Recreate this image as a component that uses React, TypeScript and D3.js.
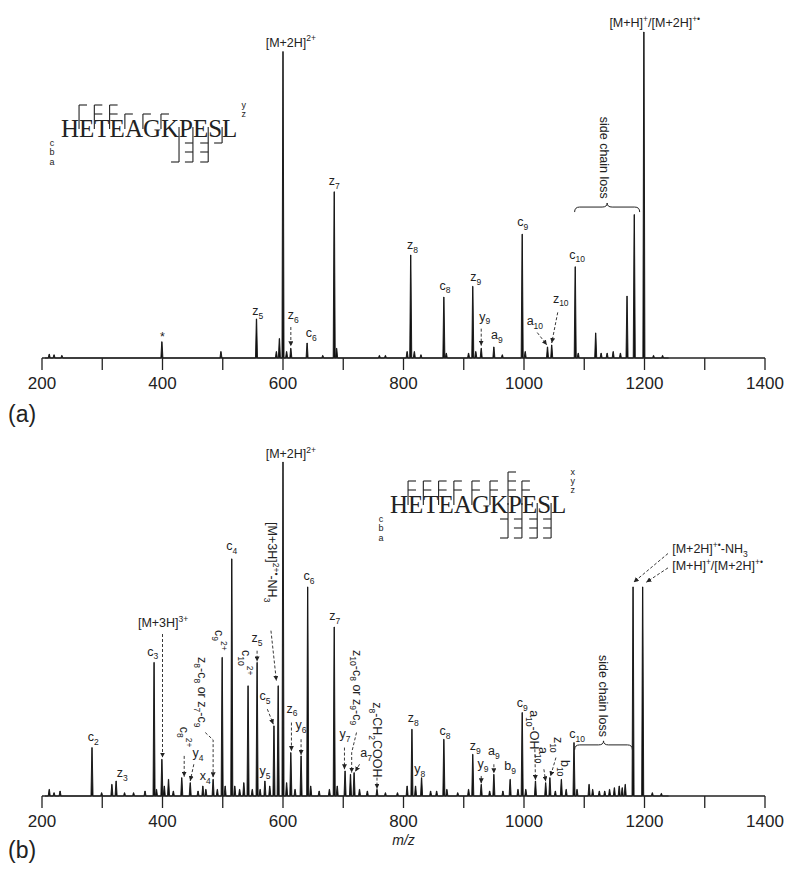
import React from "react";
import * as d3 from "d3";

const W = 800;
const H = 870;
const mzTicks = d3.range(200, 1401, 100);
const mzTickLabels = [200, 400, 600, 800, 1000, 1200, 1400];
const residues = ["H", "E", "T", "E", "A", "G", "K", "P", "E", "S", "L"];
// Times advance widths (em)
const serifWidths: Record<string, number> = { H: 0.722, E: 0.611, T: 0.611, A: 0.722, G: 0.722, K: 0.722, P: 0.556, S: 0.556, L: 0.611 };

// (a) spectrum: [m/z, relative intensity %]
const peaksA: [number, number][] = [
  [212, 1.2], [220, 1], [233, 0.8], [399, 5], [497, 2], [556, 12], [589, 2], [594, 6], [600, 94], [606, 2],
  [613, 3], [640, 4.6], [666, 0.8], [685, 51], [689, 3], [760, 0.8], [770, 0.8], [806, 2], [812, 31.6], [818, 2],
  [829, 1], [867, 18.7], [871, 1.5], [908, 1.5], [915, 22], [920, 2], [929, 3], [950, 3.4], [964, 1], [997, 38],
  [1002, 2], [1039, 3.4], [1046, 4], [1085, 28], [1090, 1.5], [1119, 7.7], [1128, 1.5], [1138, 1.5], [1148, 2],
  [1160, 1.5], [1171, 19], [1183, 44], [1199, 100], [1215, 0.8], [1230, 0.8],
];

// (b) spectrum
const peaksB: [number, number][] = [
  [212, 2], [220, 1], [230, 1.5], [283, 14.5], [299, 1], [316, 3.5], [323, 4.5], [337, 1], [352, 1], [371, 1.5],
  [386, 40], [390, 2], [399, 11], [403, 3], [410, 5], [418, 1.5], [432, 5.5], [446, 4], [459, 1.5], [467, 3],
  [472, 2], [484, 5], [491, 2], [499, 41.5], [504, 3], [515, 71], [520, 3], [528, 2], [535, 4], [542, 33],
  [549, 2], [557, 40], [562, 2], [570, 4.5], [578, 3], [585, 21], [592, 33], [600, 100], [606, 4], [613, 13],
  [620, 2], [630, 12], [641, 62.6], [646, 3], [660, 1.5], [677, 2], [685, 50.6], [690, 3], [703, 7.5], [712, 6.5],
  [718, 7], [727, 2], [740, 1.5], [756, 2], [770, 1], [790, 1], [806, 3], [814, 20], [820, 3], [830, 5.5],
  [845, 1.5], [855, 1.5], [867, 17], [872, 2], [890, 1], [908, 2], [915, 12.5], [929, 3.5], [943, 1.5], [950, 6.5],
  [965, 1.5], [977, 5], [990, 2], [997, 25], [1003, 2], [1019, 4.5], [1036, 4], [1043, 5.5], [1052, 1.5], [1062, 5],
  [1070, 2], [1083, 16], [1088, 2], [1108, 3.5], [1114, 2], [1125, 1.5], [1134, 1.5], [1142, 2], [1150, 2.5],
  [1158, 3], [1163, 2.5], [1168, 3.5], [1181, 62.6], [1197, 62.6], [1213, 1], [1228, 0.8],
];

type Lab = { t: string; mz: number; i: number; rot?: boolean; start?: boolean; arrow?: [number, number][] };

const labelsA: Lab[] = [
  { t: "[M+2H]^{2+}", mz: 613, i: 95.5 },
  { t: "[M+H]^{+}/[M+2H]^{+•}", mz: 1217, i: 101.5 },
  { t: "*", mz: 400, i: 5.2 },
  { t: "z_{5}", mz: 558, i: 13.2 },
  { t: "z_{6}", mz: 617, i: 12, arrow: [[613, 9.5], [613, 3.6]] },
  { t: "c_{6}", mz: 647, i: 6.5 },
  { t: "z_{7}", mz: 685, i: 53 },
  { t: "z_{8}", mz: 815, i: 33.5 },
  { t: "c_{8}", mz: 869, i: 21 },
  { t: "z_{9}", mz: 920, i: 23.5 },
  { t: "y_{9}", mz: 935, i: 11.5, arrow: [[929, 9], [929, 3.8]] },
  { t: "a_{9}", mz: 955, i: 5.8 },
  { t: "c_{9}", mz: 998, i: 40.5 },
  { t: "a_{10}", mz: 1018, i: 10, arrow: [[1022, 7.8], [1038, 4]] },
  { t: "z_{10}", mz: 1061, i: 17, arrow: [[1056, 14], [1046, 4.6]] },
  { t: "c_{10}", mz: 1088, i: 30.5 },
  { t: "side chain loss", mz: 1134, i: 74, rot: true },
];
const bracesA: [number, number, number][] = [[1084, 1192, 46.3]];

const labelsB: Lab[] = [
  { t: "[M+2H]^{2+}", mz: 613, i: 101.2 },
  { t: "c_{2}", mz: 285, i: 16.5 },
  { t: "z_{3}", mz: 333, i: 5.7 },
  { t: "c_{3}", mz: 384, i: 42 },
  { t: "[M+3H]^{3+}", mz: 401, i: 50.6, arrow: [[400, 48.5], [400, 11.5]] },
  { t: "c_{8}^{2+}", mz: 437, i: 20.7, rot: true, arrow: [[436, 12], [436, 5.8]] },
  { t: "y_{4}", mz: 459, i: 11.7, arrow: [[452, 9.5], [446, 4.5]] },
  { t: "x_{4}", mz: 471, i: 4.8 },
  { t: "z_{8}-c_{8} or z_{7}-c_{9}", mz: 466, i: 41.6, rot: true, arrow: [[471, 19], [484, 16.8], [484, 5.6]] },
  { t: "c_{9}^{2+}", mz: 495, i: 49.7, rot: true },
  { t: "c_{4}", mz: 515, i: 73.7 },
  { t: "c_{10}^{2+}", mz: 539, i: 43.7, rot: true },
  { t: "z_{5}", mz: 557, i: 46.1, arrow: [[557, 43.5], [557, 40.3]] },
  { t: "y_{5}", mz: 570, i: 6.3 },
  { t: "c_{5}", mz: 570, i: 28.7, arrow: [[574, 26], [584, 21.5]] },
  { t: "[M+3H]^{2+•}-NH_{3}", mz: 582, i: 82, rot: true, arrow: [[580, 49.5], [589, 34.5]] },
  { t: "z_{6}", mz: 615, i: 25, arrow: [[614, 22], [614, 13.5]] },
  { t: "y_{6}", mz: 630, i: 20, arrow: [[630, 17], [630, 12.3]] },
  { t: "c_{6}", mz: 643, i: 64.7 },
  { t: "z_{7}", mz: 686, i: 52.7 },
  { t: "y_{7}", mz: 703, i: 17.4, arrow: [[702, 14.5], [702, 8]] },
  { t: "z_{10}-c_{8} or z_{9}-c_{9}", mz: 724, i: 43.7, rot: true, arrow: [[722, 19], [714, 13], [714, 7]] },
  { t: "a_{7}", mz: 738, i: 11.7, arrow: [[727, 9.5], [720, 7.3]] },
  { t: "z_{8}-CH_{2}COOH", mz: 756, i: 28.1, rot: true, arrow: [[756, 5.5], [756, 2.2]] },
  { t: "z_{8}", mz: 816, i: 22.2 },
  { t: "y_{8}", mz: 827, i: 6.9 },
  { t: "c_{8}", mz: 869, i: 18.3 },
  { t: "z_{9}", mz: 919, i: 13.8 },
  { t: "y_{9}", mz: 932, i: 8.4, arrow: [[929, 6], [929, 3.8]] },
  { t: "a_{9}", mz: 950, i: 12.3, arrow: [[950, 9.5], [950, 6.8]] },
  { t: "b_{9}", mz: 977, i: 7.8 },
  { t: "c_{9}", mz: 997, i: 26.6 },
  { t: "a_{10}-OH", mz: 1017, i: 25.7, rot: true, arrow: [[1018, 14], [1019, 4.8]] },
  { t: "a_{10}", mz: 1032, i: 14.7, rot: true, arrow: [[1033, 8], [1036, 4.4]] },
  { t: "z_{10}", mz: 1057, i: 17.7, rot: true, arrow: [[1053, 11.5], [1044, 5.9]] },
  { t: "b_{10}", mz: 1068, i: 10.8, rot: true },
  { t: "c_{10}", mz: 1088, i: 17.4 },
  { t: "side chain loss", mz: 1131, i: 42.2, rot: true },
  { t: "[M+2H]^{+•}-NH_{3}", mz: 1246, i: 72.8, start: true, arrow: [[1239, 72.6], [1182, 64]] },
  { t: "[M+H]^{+}/[M+2H]^{+•}", mz: 1246, i: 67.7, start: true, arrow: [[1239, 68.3], [1203, 64]] },
];
const bracesB: [number, number, number][] = [[1084, 1180, 15.3]];

// fragment maps: [cleavage after residue k, ion letters]
const fragTopA: [number, string][] = [[1, "y"], [2, "yz"], [3, "yz"], [4, "z"], [5, "z"], [6, "z"]];
const fragBotA: [number, string][] = [[7, "a"], [8, "cba"], [9, "cba"], [10, "c"]];
const fragTopB: [number, string][] = [[1, "yz"], [2, "yz"], [3, "yz"], [4, "yz"], [5, "yz"], [6, "yz"], [7, "xyz"], [8, "yz"]];
const fragBotB: [number, string][] = [[7, "ca"], [8, "cba"], [9, "cba"], [10, "cba"]];

const SANS = "'Liberation Sans', Arial, Helvetica, sans-serif";
const SERIF = "'Liberation Serif', 'Times New Roman', serif";
const LFS = 12.5;

function Rich({ s, fs }: { s: string; fs: number }) {
  const parts = s.split(/(_\{[^}]*\}|\^\{[^}]*\})/).filter((p) => p !== "");
  let cur = 0;
  return (
    <>
      {parts.map((p, idx) => {
        let k = "n";
        let t = p;
        if (p.startsWith("_{")) { k = "sub"; t = p.slice(2, -1); }
        else if (p.startsWith("^{")) { k = "sup"; t = p.slice(2, -1); }
        const target = k === "sub" ? fs * 0.3 : k === "sup" ? -fs * 0.42 : 0;
        const dy = target - cur;
        cur = target;
        return (
          <tspan key={idx} dy={dy} fontSize={k === "n" ? fs : fs * 0.68}>{t}</tspan>
        );
      })}
    </>
  );
}

function FragMap({ x0, base, top, bot, upper, lower }: {
  x0: number; base: number; top: [number, string][]; bot: [number, string][]; upper: string; lower: string;
}) {
  const fs = 25;
  const lefts: number[] = [];
  let acc = x0;
  residues.forEach((r) => { lefts.push(acc); acc += serifWidths[r] * fs; });
  const end = acc;
  const cut = (k: number) => lefts[k];
  const upLv: Record<string, number> = { x: -41, y: -32, z: -23 };
  const loLv: Record<string, number> = { c: 6, b: 15, a: 25 };
  const st = { stroke: "#222", strokeWidth: 1.1, fill: "none" };
  return (
    <g>
      {residues.map((r, i) => (
        <text key={i} x={lefts[i]} y={base} fontFamily={SERIF} fontSize={fs} fill="#222">{r}</text>
      ))}
      {top.map(([k, ions]) => {
        const xs = cut(k);
        const lv = ions.split("").map((c) => base + upLv[c]);
        const ymin = Math.min(...lv);
        return (
          <g key={"t" + k}>
            <line x1={xs} x2={xs} y1={ymin} y2={base - 8} {...st} />
            {lv.map((yy, j) => <line key={j} x1={xs} x2={xs + 8} y1={yy} y2={yy} {...st} />)}
          </g>
        );
      })}
      {bot.map(([k, ions]) => {
        const xs = cut(k);
        const lv = ions.split("").map((c) => base + loLv[c]);
        const ymax = Math.max(...lv);
        return (
          <g key={"b" + k}>
            <line x1={xs} x2={xs} y1={base - 10} y2={ymax} {...st} />
            {lv.map((yy, j) => <line key={j} x1={xs - 8} x2={xs} y1={yy} y2={yy} {...st} />)}
          </g>
        );
      })}
      {upper.split("").map((c) => (
        <text key={"u" + c} x={end + 4} y={base + upLv[c] + 3} fontFamily={SANS} fontSize={9} fill="#222">{c}</text>
      ))}
      {lower.split("").map((c) => (
        <text key={"l" + c} x={x0 - 9} y={base + loLv[c] + 3} fontFamily={SANS} fontSize={9} fill="#222" textAnchor="middle">{c}</text>
      ))}
    </g>
  );
}

function Panel({ peaks, labels, braces, y0, yTop, tag, tagY, showMz, children }: {
  peaks: [number, number][]; labels: Lab[]; braces: [number, number, number][];
  y0: number; yTop: number; tag: string; tagY: number; showMz: boolean; children?: React.ReactNode;
}) {
  const x = d3.scaleLinear().domain([200, 1400]).range([42, 765]);
  const y = d3.scaleLinear().domain([0, 100]).range([y0, yTop]);
  const w = 1.7;
  const sorted = [...peaks].sort((a, b) => a[0] - b[0]);
  let d = `M${x(205)},${y0}`;
  sorted.forEach(([mz, it]) => {
    d += `L${x(mz - w)},${y0}L${x(mz - 0.25)},${y(it)}L${x(mz + 0.25)},${y(it)}L${x(mz + w)},${y0}`;
  });
  d += `L${x(1240)},${y0}`;
  const line = d3.line();
  return (
    <g>
      <path d={d} fill="#111" stroke="#111" strokeWidth={0.9} strokeLinejoin="round" />
      <line x1={x(200)} x2={x(1400)} y1={y0} y2={y0} stroke="#222" strokeWidth={1.3} />
      {mzTicks.map((t) => (
        <line key={t} x1={x(t)} x2={x(t)} y1={y0} y2={y0 + 12} stroke="#222" strokeWidth={1.3} />
      ))}
      {mzTickLabels.map((t) => (
        <text key={t} x={x(t)} y={y0 + 31} textAnchor="middle" fontFamily={SANS} fontSize={17} fill="#222">{t}</text>
      ))}
      {showMz && (
        <text x={x(800)} y={y0 + 49} textAnchor="middle" fontFamily={SANS} fontSize={14} fontStyle="italic" fill="#222">m/z</text>
      )}
      <text x={8} y={tagY} fontFamily={SANS} fontSize={23} fill="#222">{tag}</text>
      {labels.map((l, idx) => {
        const px = x(l.mz);
        const py = y(l.i);
        return (
          <g key={idx}>
            {l.arrow && (
              <path
                d={line(l.arrow.map(([m, v]) => [x(m), y(v)] as [number, number])) || ""}
                fill="none" stroke="#222" strokeWidth={0.9} strokeDasharray="3,2" markerEnd="url(#ah)"
              />
            )}
            {l.rot ? (
              <text transform={`translate(${px - 0.35 * LFS},${py}) rotate(90)`} fontFamily={SANS} fill="#222">
                <Rich s={l.t} fs={LFS} />
              </text>
            ) : (
              <text x={px} y={py} textAnchor={l.start ? "start" : "middle"} fontFamily={SANS} fill="#222">
                <Rich s={l.t} fs={LFS} />
              </text>
            )}
          </g>
        );
      })}
      {braces.map(([a, b, v], idx) => {
        const x1 = x(a), x2 = x(b), xm = (x1 + x2) / 2, yy = y(v);
        const bd = `M${x1},${yy + 5}Q${x1},${yy} ${x1 + 5},${yy}L${xm - 5},${yy}Q${xm},${yy} ${xm},${yy - 4}Q${xm},${yy} ${xm + 5},${yy}L${x2 - 5},${yy}Q${x2},${yy} ${x2},${yy + 5}`;
        return <path key={idx} d={bd} fill="none" stroke="#222" strokeWidth={1} />;
      })}
      {children}
    </g>
  );
}

export default function App() {
  return (
    <svg width={W} height={H} style={{ position: "absolute", left: 0, top: 0, background: "#fff" }}>
      <defs>
        <marker id="ah" viewBox="0 0 6 6" refX="6" refY="3" markerWidth="5" markerHeight="5" markerUnits="userSpaceOnUse" orient="auto">
          <path d="M0,0L6,3L0,6z" fill="#222" />
        </marker>
      </defs>
      <rect width={W} height={H} fill="#fff" />
      <Panel peaks={peaksA} labels={labelsA} braces={bracesA} y0={358} yTop={32} tag="(a)" tagY={422} showMz={false}>
        <FragMap x0={61} base={137} top={fragTopA} bot={fragBotA} upper="yz" lower="cba" />
      </Panel>
      <Panel peaks={peaksB} labels={labelsB} braces={bracesB} y0={796} yTop={462} tag="(b)" tagY={858} showMz={true}>
        <FragMap x0={390} base={513} top={fragTopB} bot={fragBotB} upper="xyz" lower="cba" />
      </Panel>
    </svg>
  );
}
